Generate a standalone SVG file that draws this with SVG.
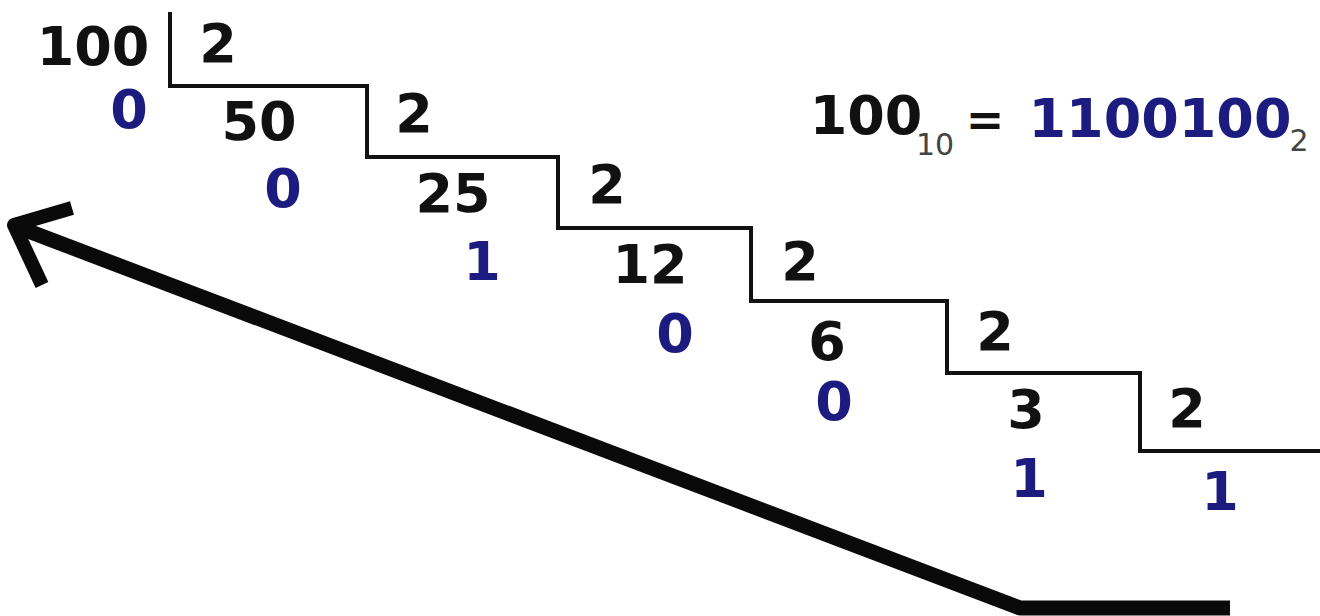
<svg xmlns="http://www.w3.org/2000/svg" width="1320" height="616" viewBox="0 0 1320 616">
  <style>
    text { font-family: "DejaVu Sans", Verdana, sans-serif; font-weight: bold; font-size: 54px; text-anchor: middle; }
    .k { fill: #111111; }
    .b { fill: #1c1c80; }
    .sub { font-weight: normal; font-size: 30px; fill: #444444; }
    .stair { fill: none; stroke: #111111; stroke-width: 4; stroke-linejoin: miter; }
    .arrow { fill: none; stroke: #0a0a0a; stroke-width: 14; stroke-linejoin: round; stroke-linecap: butt; }
  </style>
  <rect x="0" y="0" width="1320" height="616" fill="#ffffff"/>

  <g id="stairs">
    <path class="stair" d="M170,12 V86 H367 V157 H558 V228 H751 V301 H947 V373 H1140 V451 H1320"/>
  </g>

  <g id="step1">
    <text class="k" x="93" y="65">100</text>
    <text class="k" x="218" y="62">2</text>
    <text class="b" x="129" y="128">0</text>
  </g>
  <g id="step2">
    <text class="k" x="259" y="140">50</text>
    <text class="k" x="414" y="132">2</text>
    <text class="b" x="283" y="207">0</text>
  </g>
  <g id="step3">
    <text class="k" x="453" y="212">25</text>
    <text class="k" x="607" y="203">2</text>
    <text class="b" x="482" y="280">1</text>
  </g>
  <g id="step4">
    <text class="k" x="650" y="283">12</text>
    <text class="k" x="800" y="280">2</text>
    <text class="b" x="675" y="352">0</text>
  </g>
  <g id="step5">
    <text class="k" x="827" y="360">6</text>
    <text class="k" x="995" y="350">2</text>
    <text class="b" x="834" y="420">0</text>
  </g>
  <g id="step6">
    <text class="k" x="1026" y="428">3</text>
    <text class="k" x="1187" y="427">2</text>
    <text class="b" x="1029" y="497">1</text>
  </g>
  <g id="step7">
    <text class="b" x="1220" y="510">1</text>
  </g>

  <g id="result">
    <text class="k" x="866" y="134">100</text>
    <text class="sub" x="935" y="155">10</text>
    <text class="k" x="985" y="136" style="font-size:46px">=</text>
    <text class="b" x="1160" y="137">1100100</text>
    <text class="sub" x="1299" y="151">2</text>
  </g>

  <g id="connectors">
    <path class="arrow" d="M1230,608 H1020 L15,226" style="stroke-width:15"/>
    <path class="arrow" d="M72,208 L14,225 L42,285"/>
  </g>
</svg>
